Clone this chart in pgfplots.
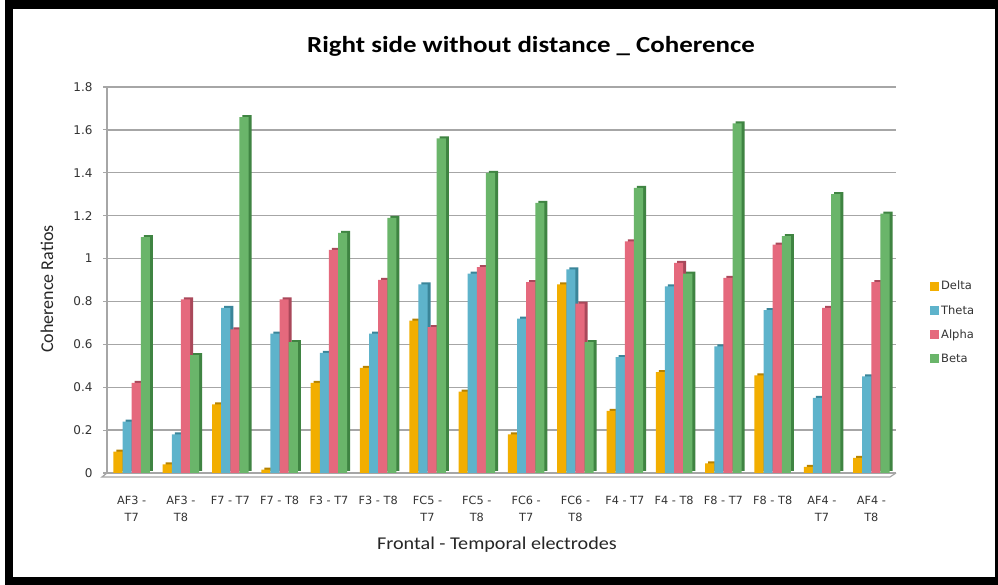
\documentclass[border=0pt]{standalone}
\usepackage{pgfplots}
\pgfplotsset{compat=1.18}
\usepackage{pgfplotstable}
\usepackage{fontspec}
\setmainfont{Carlito}
\newfontfamily\titlefont[FakeStretch=1.17]{Carlito}
\newfontfamily\labfont[FakeStretch=1.12]{Carlito}
\newfontfamily\tickfont{DejaVu Sans}

\definecolor{deltaC}{HTML}{F2AE00}
\definecolor{thetaC}{HTML}{5EB3CB}
\definecolor{alphaC}{HTML}{E5697D}
\definecolor{betaC}{HTML}{6AB56A}
\definecolor{deltaD}{HTML}{B58200}
\definecolor{thetaD}{HTML}{3A8599}
\definecolor{alphaD}{HTML}{A9485A}
\definecolor{betaD}{HTML}{3F8442}
\definecolor{gridC}{HTML}{A6A6A6}

% coherence ratios per frontal-temporal pair
\pgfplotstableread{
x delta theta alpha beta
0  0.10  0.24 0.42  1.10
1  0.04  0.18 0.81  0.55
2  0.32  0.77 0.67  1.66
3  0.016 0.65 0.81  0.61
4  0.42  0.56 1.04  1.12
5  0.49  0.65 0.90  1.19
6  0.71  0.88 0.68  1.56
7  0.38  0.93 0.96  1.40
8  0.18  0.72 0.89  1.26
9  0.88  0.95 0.79  0.61
10 0.29  0.54 1.08  1.33
11 0.47  0.87 0.98  0.93
12 0.045 0.59 0.91  1.63
13 0.455 0.76 1.065 1.105
14 0.028 0.35 0.77  1.30
15 0.07  0.45 0.89  1.21
}\coh

\begin{document}
\begin{tikzpicture}[x=1pt,y=1pt]
\useasboundingbox (0,0) rectangle (998,585);
\fill[white] (0,0) rectangle (998,585);
\fill[black] (5,0) rectangle (998,585);
\fill[white] (13,8) rectangle (995,576);

% front edge of the floor
\draw[gridC, line width=1.2pt] (107,112) -- (102,108) -- (890,108) -- (896,112);

\begin{axis}[
  at={(107pt,112pt)}, anchor=south west,
  scale only axis, width=789pt, height=386pt,
  ybar, bar width=0.185,
  xmin=-0.5, xmax=15.5, ymin=0, ymax=1.8,
  ytick={0,0.2,0.4,0.6,0.8,1,1.2,1.4,1.6,1.8},
  xtick={0,...,15},
  xticklabels={{AF3 -\\T7},{AF3 -\\T8},{F7 - T7},{F7 - T8},{F3 - T7},{F3 - T8},{FC5 -\\T7},{FC5 -\\T8},{FC6 -\\T7},{FC6 -\\T8},{F4 - T7},{F4 - T8},{F8 - T7},{F8 - T8},{AF4 -\\T7},{AF4 -\\T8}},
  /pgf/number format/assume math mode=true,
  axis x line*=bottom, axis y line*=left,
  axis line style={draw=gridC, line width=1.2pt, -},
  ymajorgrids, major grid style={draw=gridC, line width=1.3pt},
  tick align=outside, major tick length=4pt,
  ytick style={draw=gridC, line width=1.2pt},
  xtick style={draw=none},
  yticklabel style={font=\tickfont\fontsize{12}{14}\selectfont, text=black!80, xshift=-7pt},
  xticklabel style={font=\tickfont\fontsize{11.3}{16.7}\selectfont, text=black!80, align=center, yshift=-16pt},
  legend style={at={(1.043,0.39)}, anchor=west, draw=none, fill=none,
    font=\tickfont\fontsize{11.5}{13}\selectfont, text=black!80, row sep=10pt, inner sep=0pt},
  legend cell align=left,
  sq/.style={legend image code/.code={\fill[##1] (0pt,-4.5pt) rectangle (9pt,4.5pt);}},
]
% darker side faces, drawn first so that neighbouring front faces cover them
\addplot[fill=deltaD, draw=none, bar shift=-0.2775, xshift=3pt, yshift=2pt, forget plot] table[x=x,y=delta]{\coh};
\addplot[fill=thetaD, draw=none, bar shift=-0.0925, xshift=3pt, yshift=2pt, forget plot] table[x=x,y=theta]{\coh};
\addplot[fill=alphaD, draw=none, bar shift=0.0925, xshift=3pt, yshift=2pt, forget plot] table[x=x,y=alpha]{\coh};
\addplot[fill=betaD, draw=none, bar shift=0.2775, xshift=3pt, yshift=2pt, forget plot] table[x=x,y=beta]{\coh};
% front faces
\addplot[fill=deltaC, draw=none, bar shift=-0.2775, sq] table[x=x,y=delta]{\coh};
\addplot[fill=thetaC, draw=none, bar shift=-0.0925, sq] table[x=x,y=theta]{\coh};
\addplot[fill=alphaC, draw=none, bar shift=0.0925, sq] table[x=x,y=alpha]{\coh};
\addplot[fill=betaC, draw=none, bar shift=0.2775, sq] table[x=x,y=beta]{\coh};
\legend{Delta,Theta,Alpha,Beta}
\end{axis}

\node[font=\titlefont\bfseries\fontsize{23}{27}\selectfont] at (531,539) {Right side without distance \_ Coherence};
\node[font=\labfont\fontsize{18}{21}\selectfont, text=black!85] at (497,40) {Frontal - Temporal electrodes};
\node[font=\fontsize{18}{21}\selectfont, text=black!85, rotate=90] at (47,296) {Coherence Ratios};
\end{tikzpicture}
\end{document}
